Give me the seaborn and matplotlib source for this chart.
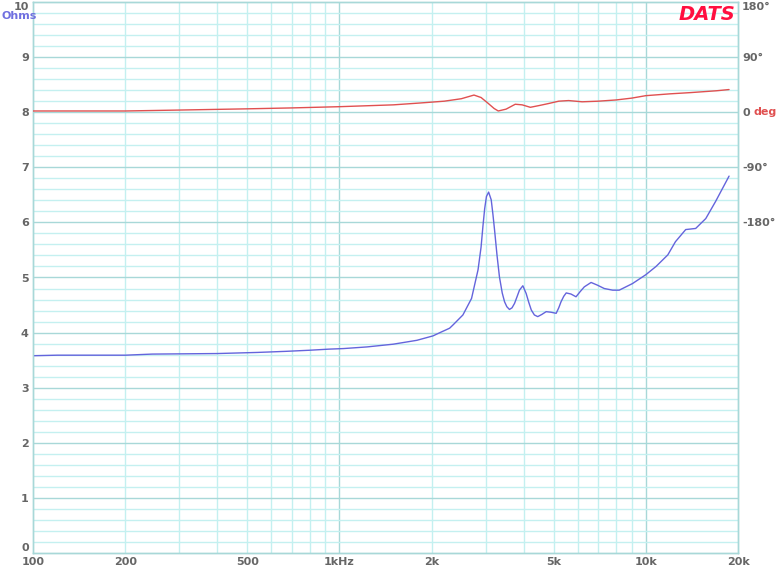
import numpy as np
import pandas as pd
import matplotlib
matplotlib.use("Agg")
import matplotlib.pyplot as plt
import seaborn as sns

# ============================================
# DATA (read off the DATS sweep)
# ============================================
imp_freq = [100, 120, 200, 245, 400, 540, 670, 800, 925, 1030, 1230, 1500,
            1790, 2020, 2130, 2290, 2350, 2530, 2700, 2835, 2900, 2940, 2980,
            3020, 3070, 3130, 3170, 3210, 3270, 3330, 3400, 3460, 3520, 3590,
            3660, 3730, 3800, 3870, 3970, 4070, 4150, 4230, 4330, 4440, 4580,
            4730, 4900, 5100, 5200, 5290, 5400, 5500, 5700, 5920, 6100, 6300,
            6630, 6960, 7320, 7800, 8190, 9050, 10000, 10800, 11800, 12500,
            13500, 14550, 15700, 16900, 18700]
imp_ohms = [3.58, 3.59, 3.59, 3.61, 3.62, 3.64, 3.66, 3.68, 3.70, 3.71, 3.74, 3.79,
            3.86, 3.94, 4.00, 4.08, 4.14, 4.32, 4.62, 5.14, 5.55, 5.92, 6.25,
            6.47, 6.55, 6.41, 6.15, 5.86, 5.40, 5.01, 4.72, 4.56, 4.47, 4.42,
            4.45, 4.53, 4.65, 4.77, 4.85, 4.71, 4.55, 4.41, 4.32, 4.29, 4.33,
            4.38, 4.37, 4.35, 4.45, 4.56, 4.66, 4.72, 4.70, 4.65, 4.74, 4.83,
            4.91, 4.86, 4.80, 4.77, 4.77, 4.89, 5.05, 5.20, 5.41, 5.65,
            5.87, 5.89, 6.07, 6.38, 6.84]

ph_freq = [100, 200, 300, 500, 700, 1000, 1500, 1830, 2200, 2500, 2750, 2900,
           3050, 3200, 3300, 3500, 3750, 3950, 4200, 4500, 4800, 5200, 5600,
           6200, 7000, 8000, 9000, 10000, 12000, 14000, 17000, 18700]
ph_deg = [2, 2, 3.5, 5.5, 7, 9, 12, 15, 18, 22, 28, 24,
          15, 6, 2, 5, 13, 12, 8, 11, 14, 18, 19,
          17, 18, 20, 23, 27, 30, 32, 35, 37]

x_ticks = [100, 200, 500, 1000, 2000, 5000, 10000, 20000]
x_labels = ["100", "200", "500", "1kHz", "2k", "5k", "10k", "20k"]
ohm_ticks = list(range(0, 11))
deg_ticks = [180, 90, 0, -90, -180]
deg_labels = ["180°", "90°", "0", "-90°", "-180°"]

imp = pd.DataFrame({"freq": imp_freq, "ohms": imp_ohms})
ph = pd.DataFrame({"freq": ph_freq, "deg": ph_deg})

# ============================================
# PLOT
# ============================================
sns.set_style("white")
plt.rcParams["font.family"] = ["DejaVu Sans"]

fig = plt.figure(figsize=(7.77, 5.70), dpi=100)
ax = fig.add_axes([33 / 777, 1 - 553 / 570, 705 / 777, 551 / 570])
ax2 = ax.twinx()

minor_col = "#c4f0f0"
major_col = "#a8d8d8"
lab_col = "#666666"
red = "#e05050"

ax.set_xscale("log")
ax.set_xlim(100, 20000)
ax.set_ylim(0, 10)
ax2.set_ylim(-720, 180)

# grid lines
for dec in [100, 1000, 10000]:
    for m in range(1, 10):
        f = dec * m
        if 100 < f < 20000:
            ax.axvline(f, color=major_col if m == 1 else minor_col, lw=1, zorder=0)
for v in np.arange(0.2, 10, 0.2):
    is_major = abs(v - round(v)) < 1e-6
    ax.axhline(v, color=major_col if is_major else minor_col, lw=1, zorder=0)

sns.lineplot(data=imp, x="freq", y="ohms", ax=ax, color="#6464dc", lw=1, zorder=3)
sns.lineplot(data=ph, x="freq", y="deg", ax=ax2, color=red, lw=1, zorder=3)

ax.set_xlabel("")
ax.set_ylabel("")
ax2.set_ylabel("")

ax.set_xticks(x_ticks)
ax.set_xticklabels(x_labels)
ax.minorticks_off()
ax.set_yticks(ohm_ticks)
ax.set_yticklabels([str(t) for t in ohm_ticks])
ax2.set_yticks(deg_ticks)
ax2.set_yticklabels(deg_labels)

ax.tick_params(axis="both", length=0, labelsize=8, labelcolor=lab_col, pad=3)
ax2.tick_params(axis="y", length=0, labelsize=8, labelcolor=lab_col, pad=3)
for t in ax.get_xticklabels() + ax.get_yticklabels() + ax2.get_yticklabels():
    t.set_fontweight("bold")

# keep edge labels inside the picture
ax.get_yticklabels()[-1].set_va("top")
ax.get_yticklabels()[0].set_va("bottom")
ax2.get_yticklabels()[0].set_va("top")

# red "deg" unit after the 0 label
ax2.annotate("deg", xy=(1, 0), xycoords=("axes fraction", "data"),
             xytext=(11, 0), textcoords="offset points", color=red,
             fontsize=8, fontweight="bold", va="center", ha="left")

for a in [ax, ax2]:
    for s in a.spines.values():
        s.set_color(major_col)
        s.set_linewidth(1)

fig.text(1 / 777, 1 - 16 / 570, "Ohms", color="#7070e0", fontsize=8,
         fontweight="bold", va="center", ha="left")
fig.text(735 / 777, 1 - 14 / 570, "DATS", color="#ff1040", fontsize=14,
         fontweight="bold", fontstyle="italic", va="center", ha="right")

fig.savefig("out.png", dpi=100)
